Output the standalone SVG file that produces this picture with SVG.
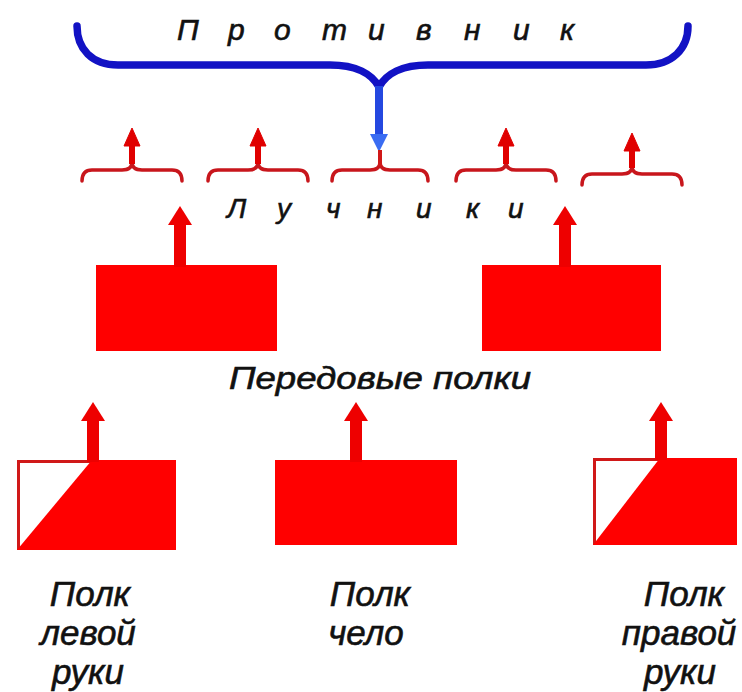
<svg xmlns="http://www.w3.org/2000/svg" width="742" height="692" viewBox="0 0 742 692">
<style>
.t{font-family:"Liberation Sans",Arial,sans-serif;font-style:italic;fill:#111;stroke:#111;stroke-width:0.6;}
.br{fill:none;stroke:#c8161c;stroke-width:3.5;stroke-linecap:round;stroke-linejoin:round;}
.box{fill:#ff0000;}
.ol{fill:#ffffff;stroke:#d01818;stroke-width:3;}
</style>
<rect width="742" height="692" fill="#ffffff"/>
<g id="enemy">
<path d="M77,26 C77,49 92,65 118,65 L330,65 C356,65 372,74 379,87 C386,74 402,65 428,65 L646,65 C672,65 688,49 688,26" fill="none" stroke="#1212c4" stroke-width="7.5" stroke-linecap="round"/>
<text class="t" font-size="30" x="177 228 274 322 368 416 464 513 560" y="40">Противник</text>
</g>
<g id="archers">
<path class="br" d="M82,181 Q82,170 92,170 L122,170 Q132,170 132,162 Q132,170 142,170 L172,170 Q182,170 182,181"/>
<path class="br" d="M208,181 Q208,170 218,170 L248,170 Q258,170 258,162 Q258,170 268,170 L298,170 Q308,170 308,181"/>
<path class="br" d="M332,181 Q332,170 342,170 L370,170 Q380,170 380,162 Q380,170 390,170 L418,170 Q428,170 428,181"/>
<path class="br" d="M456,181 Q456,170 466,170 L496,170 Q506,170 506,162 Q506,170 516,170 L546,170 Q556,170 556,181"/>
<path class="br" d="M582,185 Q582,174 592,174 L622,174 Q632,174 632,166 Q632,174 642,174 L672,174 Q682,174 682,185"/>
<text class="t" font-size="28" x="227 277 326 367 416 466 508" y="218">Лучники</text>
</g>
<g id="front-left"><rect class="box" x="96" y="265" width="181" height="86"/></g>
<g id="front-right"><rect class="box" x="482" y="265" width="179" height="86"/></g>
<text class="t" font-size="31" x="229" y="389" textLength="302" lengthAdjust="spacingAndGlyphs">Передовые полки</text>
<g id="left-hand">
<rect class="ol" x="18.5" y="461.5" width="156" height="87"/>
<polygon class="box" points="92,460 176,460 176,550 17,550"/>
<text class="t" font-size="35" text-anchor="middle"><tspan x="90" y="606">Полк</tspan><tspan x="88" y="645">левой</tspan><tspan x="88" y="684">руки</tspan></text>
</g>
<g id="center">
<rect class="box" x="275" y="460" width="182" height="85"/>
<text class="t" font-size="35" text-anchor="middle"><tspan x="370" y="606">Полк</tspan><tspan x="366" y="645">чело</tspan></text>
</g>
<g id="right-hand">
<rect class="ol" x="594.5" y="459.5" width="141" height="84"/>
<polygon class="box" points="660,458 737,458 737,545 593,545"/>
<text class="t" font-size="35" text-anchor="middle"><tspan x="684" y="606">Полк</tspan><tspan x="679" y="645">правой</tspan><tspan x="680" y="684">руки</tspan></text>
</g>
<g id="connectors">
<line x1="379" y1="86" x2="379" y2="136" stroke="#2448e0" stroke-width="8"/>
<polygon points="370,134 388,134 379,152" fill="#3a6cf2"/>
<line x1="380" y1="150" x2="380" y2="166" stroke="#d01818" stroke-width="4"/>
<g fill="#e00000" stroke="#e00000">
<line x1="132" y1="164" x2="132" y2="143" stroke-width="6"/><polygon points="124,146 140,146 132,128"/>
<line x1="258" y1="164" x2="258" y2="143" stroke-width="6"/><polygon points="250,146 266,146 258,128"/>
<line x1="506" y1="164" x2="506" y2="143" stroke-width="6"/><polygon points="498,146 514,146 506,128"/>
<line x1="632" y1="168" x2="632" y2="149" stroke-width="6"/><polygon points="624,151 640,151 632,133"/>
</g>
<g fill="#ee0000" stroke="none">
<rect x="174" y="222" width="12" height="45"/><polygon points="168,225 192,225 180,206"/>
<rect x="559" y="222" width="12" height="45"/><polygon points="553,225 577,225 565,206"/>
<rect x="87" y="418" width="12" height="44"/><polygon points="81,421 105,421 93,402"/>
<rect x="350" y="418" width="12" height="44"/><polygon points="344,421 368,421 356,402"/>
<rect x="655" y="418" width="12" height="42"/><polygon points="649,421 673,421 661,402"/>
</g>
</g>
</svg>
